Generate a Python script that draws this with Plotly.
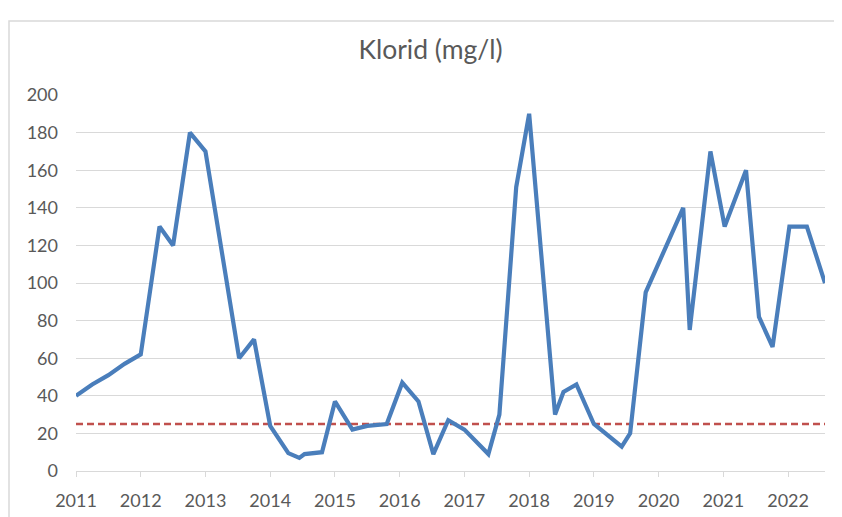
import plotly.graph_objects as go

# --- data ---
years = [2011.0, 2011.25, 2011.5, 2011.75, 2012.0, 2012.29, 2012.5, 2012.76, 2013.0,
         2013.52, 2013.75, 2014.0, 2014.28, 2014.45, 2014.53, 2014.8, 2015.0, 2015.27,
         2015.5, 2015.8, 2016.04, 2016.29, 2016.52, 2016.75, 2017.0, 2017.37, 2017.54,
         2017.8, 2018.0, 2018.4, 2018.53, 2018.73, 2019.0, 2019.43, 2019.56, 2019.8,
         2020.38, 2020.48, 2020.8, 2021.02, 2021.35, 2021.55, 2021.76, 2022.02, 2022.29,
         2022.57]
klorid = [40, 46, 51, 57, 62, 130, 120, 180, 170,
          60, 70, 24, 9.5, 7, 9, 10, 37, 22,
          24, 25, 47, 37, 9, 27, 22, 9, 30,
          151, 190, 30, 42, 46, 25, 13, 20, 95,
          140, 75, 170, 130, 160, 82, 66, 130, 130,
          100]
limit_years = [2011.0, 2022.57]
limit_values = [25, 25]
tick_years = [2011, 2012, 2013, 2014, 2015, 2016, 2017, 2018, 2019, 2020, 2021, 2022]
tick_labels = [str(y) for y in tick_years]
y_ticks = [0, 20, 40, 60, 80, 100, 120, 140, 160, 180, 200]

FONT = "Lato"
GRAY = "#595959"
GRID = "#D9D9D9"

W, H = 834, 509          # page body has an 8px margin
L, T, R, B = 68, 87, 17, 46
PW, PH = W - L - R, H - T - B

fig = go.Figure()
fig.add_trace(go.Scatter(x=limit_years, y=limit_values, mode="lines",
                         line=dict(color="#C0504D", width=2.6, dash="7px,4px"),
                         hoverinfo="skip", showlegend=False))
fig.add_trace(go.Scatter(x=years, y=klorid, mode="lines",
                         line=dict(color="#4A7EBB", width=4.2, shape="linear"),
                         showlegend=False))

fig.update_layout(
    width=W, height=H,
    margin=dict(l=L, r=R, t=T, b=B, autoexpand=False),
    paper_bgcolor="white", plot_bgcolor="white",
    font=dict(family=FONT, color=GRAY, size=18),
    title=dict(text="Klorid (mg/l)", x=422.5 / W, xref="container", xanchor="center",
               y=1 - 42 / H, yref="container", yanchor="middle",
               font=dict(family=FONT, size=26.5, color=GRAY)),
    xaxis=dict(range=[2011, 2022.57], tickmode="array", tickvals=tick_years,
               ticktext=tick_labels, showgrid=False, zeroline=False,
               showline=True, linecolor=GRID, linewidth=1, automargin=False,
               ticks="outside", ticklen=5, tickcolor=GRID, tickwidth=1,
               ticklabelstandoff=8,
               tickfont=dict(family=FONT, size=18, color=GRAY)),
    yaxis=dict(range=[0, 200], tickmode="array", tickvals=y_ticks,
               showgrid=True, gridcolor=GRID, gridwidth=1, zeroline=False,
               showline=False, ticks="", ticklabelstandoff=17, automargin=False,
               tickfont=dict(family=FONT, size=18, color=GRAY)),
    shapes=[dict(type="rect", xref="paper", yref="paper",
                 x0=(1 - L) / PW, x1=(W + 30 - L) / PW,
                 y0=-(B + 30) / PH, y1=1 + (T - 13) / PH,
                 line=dict(color=GRID, width=1.5), fillcolor="rgba(0,0,0,0)",
                 layer="below")],
)

fig.write_html("out.html")
